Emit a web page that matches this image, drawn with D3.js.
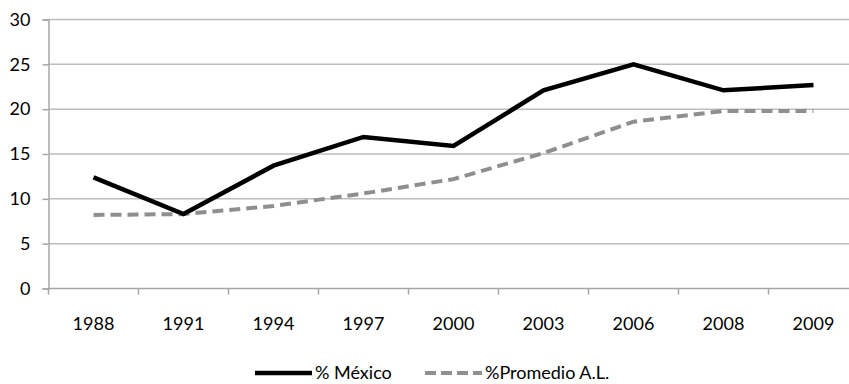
<!DOCTYPE html>
<html>
<head>
<meta charset="utf-8">
<script src="https://cdn.jsdelivr.net/npm/d3@7"></script>
<style>
  html, body { margin: 0; padding: 0; background: #fff; }
  svg { display: block; }
  text { font-family: Lato, "Open Sans", sans-serif; fill: #000; }
</style>
</head>
<body>
<svg id="chart" width="849" height="384"></svg>
<script>
// Series data
const years = ["1988", "1991", "1994", "1997", "2000", "2003", "2006", "2008", "2009"];
const mexico = [12.4, 8.3, 13.7, 16.9, 15.9, 22.1, 25.0, 22.1, 22.7];
const promedioAL = [8.2, 8.3, 9.2, 10.6, 12.2, 15.1, 18.6, 19.8, 19.8];
const yTicks = [0, 5, 10, 15, 20, 25, 30];
const seriesNames = ["% México", "%Promedio A.L."];

const svg = d3.select("#chart");
const margin = { left: 48.5, top: 19.5, bottom: 288.5 };
const bandW = 90;
const right = margin.left + bandW * years.length;
const fontSize = 18;

const x = d3.scaleBand().domain(years).range([margin.left, right]).padding(0);
const y = d3.scaleLinear().domain([0, 30]).range([margin.bottom, margin.top]);

// Horizontal gridlines
svg.append("g")
  .selectAll("line")
  .data(yTicks.filter(d => d > 0))
  .join("line")
  .attr("x1", margin.left).attr("x2", right)
  .attr("y1", d => y(d)).attr("y2", d => y(d))
  .attr("stroke", "#bdbdbd").attr("stroke-width", 1.5);

// Y axis
const yAxis = svg.append("g")
  .attr("transform", `translate(${margin.left},0)`)
  .call(d3.axisLeft(y).tickValues(yTicks).tickSize(6).tickPadding(12));
yAxis.select(".domain").attr("stroke", "#a6a6a6").attr("stroke-width", 1.5);
yAxis.selectAll(".tick line").attr("stroke", "#a6a6a6").attr("stroke-width", 1.5);
yAxis.selectAll(".tick text")
  .attr("font-size", fontSize)
  .attr("font-family", "Lato, sans-serif")
  .attr("fill", "#000");

// X axis with tick marks on band boundaries
const xAxisG = svg.append("g").attr("transform", `translate(0,${margin.bottom})`);
xAxisG.append("line")
  .attr("x1", margin.left).attr("x2", right)
  .attr("stroke", "#a6a6a6").attr("stroke-width", 1.5);
xAxisG.selectAll("line.tk")
  .data(years.concat(["end"]))
  .join("line").attr("class", "tk")
  .attr("x1", (d, i) => margin.left + i * x.bandwidth())
  .attr("x2", (d, i) => margin.left + i * x.bandwidth())
  .attr("y1", 0).attr("y2", 6)
  .attr("stroke", "#a6a6a6").attr("stroke-width", 1.5);
xAxisG.selectAll("text")
  .data(years)
  .join("text")
  .attr("x", d => x(d) + x.bandwidth() / 2)
  .attr("y", 41)
  .attr("text-anchor", "middle")
  .attr("font-size", fontSize)
  .text(d => d);

const cx = d => x(d) + x.bandwidth() / 2;
const line = d3.line().x((d, i) => cx(years[i])).y(d => y(d));

// Regional average (dashed gray)
svg.append("path")
  .datum(promedioAL)
  .attr("d", line)
  .attr("fill", "none")
  .attr("stroke", "#8f8f8f")
  .attr("stroke-width", 4)
  .attr("stroke-dasharray", "11,6");

// Mexico (solid black)
svg.append("path")
  .datum(mexico)
  .attr("d", line)
  .attr("fill", "none")
  .attr("stroke", "#000")
  .attr("stroke-width", 4.5)
  .attr("stroke-linejoin", "miter");

// Legend
const legend = svg.append("g").attr("transform", "translate(0,373)");
const items = [
  { name: seriesNames[0], x0: 255, color: "#000", dash: null, w: 4.5 },
  { name: seriesNames[1], x0: 425, color: "#8f8f8f", dash: "11,5", w: 4 }
];
items.forEach(it => {
  legend.append("line")
    .attr("x1", it.x0).attr("x2", it.x0 + 57)
    .attr("y1", 0).attr("y2", 0)
    .attr("stroke", it.color).attr("stroke-width", it.w)
    .attr("stroke-dasharray", it.dash);
  legend.append("text")
    .attr("x", it.x0 + 60).attr("y", 6)
    .attr("font-size", fontSize)
    .text(it.name);
});
</script>
</body>
</html>
